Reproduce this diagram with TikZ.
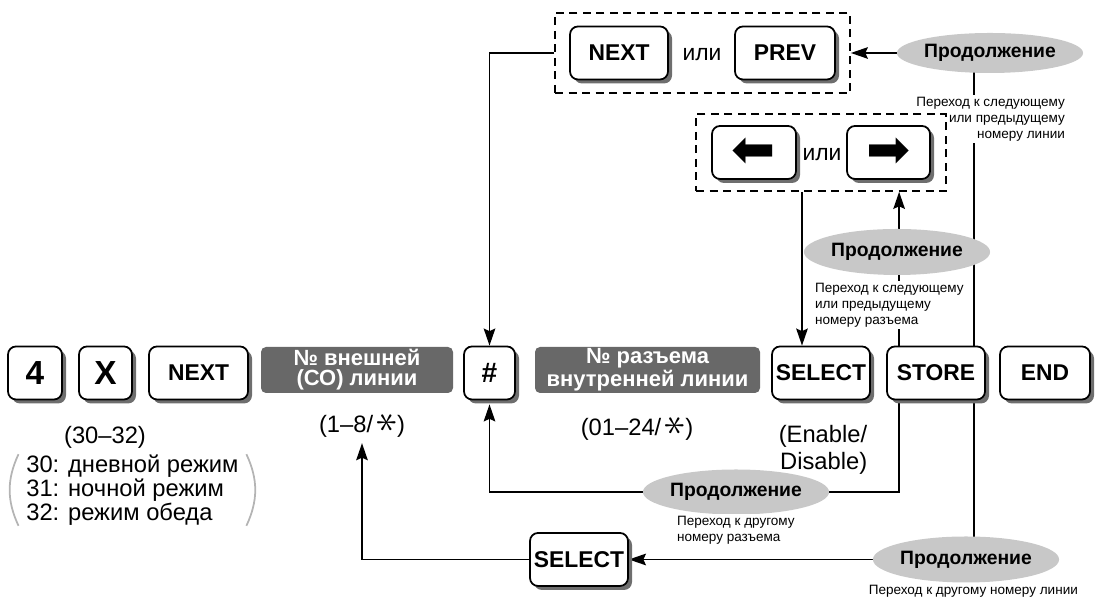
\documentclass[tikz,border=0pt]{standalone}
\usepackage{fontspec}
\setmainfont{Liberation Sans}
\newfontfamily\dejavu{DejaVu Sans}
\usepackage{tikz}
\usetikzlibrary{arrows.meta,positioning,calc,fit,shapes.geometric,shadows,backgrounds}
\definecolor{keyshc}{HTML}{6E6E6E}
\definecolor{boxc}{HTML}{686868}
\definecolor{ovalc}{HTML}{C8C8C8}
\definecolor{parc}{HTML}{B4B4B4}
\tikzset{
  >={Stealth[length=3.4mm,width=2.3mm,inset=0.5mm]},
  key/.style={draw=black,line width=1pt,fill=white,rounded corners=1.6mm,minimum height=1.06cm,inner sep=0pt,
    font=\fontsize{13}{14}\selectfont\bfseries,
    drop shadow={shadow xshift=0.8mm,shadow yshift=-0.8mm,fill=keyshc,opacity=1}},
  bigkey/.style={key,font=\fontsize{19}{20}\selectfont\bfseries},
  arrkey/.style={key,font=\fontsize{30}{30}\selectfont\dejavu},
  gbox/.style={fill=boxc,rounded corners=1mm,minimum height=0.92cm,inner sep=0pt,align=center,text=white,
    font=\fontsize{12.5}{11.5}\selectfont\bfseries},
  cont/.style={ellipse,fill=ovalc,minimum width=2.84cm,minimum height=0.92cm,inner sep=0pt,
    font=\fontsize{11}{12}\selectfont\bfseries},
  note/.style={fill=white,inner sep=1pt,font=\fontsize{7.7}{9.2}\selectfont},
  lbl/.style={inner sep=0pt,font=\fontsize{13.5}{15}\selectfont},
  orw/.style={inner sep=0pt,anchor=base,font=\fontsize{13}{14}\selectfont},
  dbox/.style={draw=black,line width=1.1pt,dash pattern=on 1.6mm off 1.1mm},
  flow/.style={->,line width=1.1pt},
  link/.style={line width=1.1pt},
  paren/.style={draw=parc,line width=1pt},
}
\newcommand{\anykey}{\,\rotatebox[origin=c]{90}{\scalebox{1.7}{$\ast$}}}

\begin{document}
\begin{tikzpicture}
  \useasboundingbox (0,0) rectangle (21.96,12.02);
  % key row
  \node[bigkey,minimum width=1.08cm] (k4) at (0.70,4.56) {4};
  \node[bigkey,minimum width=1.06cm] (kx) at (2.11,4.56) {X};
  \node[key,minimum width=1.98cm] (knext) at (3.97,4.56) {NEXT};
  \node[gbox,minimum width=3.84cm] (gco) at (7.14,4.62) {№ внешней\\(СО) линии};
  \node[key,minimum width=1.02cm,font=\fontsize{16}{17}\selectfont\bfseries] (khash) at (9.79,4.56) {\#};
  \node[gbox,minimum width=4.5cm] (gext) at (12.95,4.62) {№ разъема\\внутренней линии};
  \node[key,minimum width=1.96cm] (ksel) at (16.42,4.56) {SELECT};
  \node[key,minimum width=1.96cm] (kstore) at (18.72,4.56) {STORE};
  \node[key,minimum width=1.80cm] (kend) at (20.90,4.56) {END};
  % values under the keys
  \node[lbl] (lmode) at (2.10,3.28) {(30–32)};
  \node[lbl,anchor=west,align=left,font=\fontsize{13.5}{12}\selectfont] (lmodes) at (0.52,2.22)
    {30: дневной режим\\31: ночной режим\\32: режим обеда};
  \draw[paren] ([xshift=-1.5mm]lmodes.north west) to[bend right=25] ([xshift=-1.5mm]lmodes.south west);
  \draw[paren] ([xshift=1.5mm]lmodes.north east) to[bend left=25] ([xshift=1.5mm]lmodes.south east);
  \node[lbl] (lco) at (7.24,3.52) {(1–8/\anykey)};
  \node[lbl] (lext) at (12.74,3.46) {(01–24/\anykey)};
  \node[lbl,align=right] (lsel) at (16.46,3.02) {(Enable/\\Disable)};
  % NEXT / PREV
  \node[key,minimum width=1.96cm] (pnext) at (12.38,10.96) {NEXT};
  \node[key,minimum width=2.0cm] (pprev) at (15.70,10.96) {PREV};
  \node[orw] (or1) at (14.04,10.80) {или};
  \node[dbox,fit=(pnext)(pprev),inner xsep=0.28cm,inner ysep=0.26cm] (npbox) {};
  \node[cont,minimum width=2.6cm,minimum height=0.8cm] (ctop) at (19.80,10.96) {Продолжение};
  \node[note,align=right,anchor=north east] (ntop) at (21.34,10.12)
    {Переход к следующему\\или предыдущему\\номеру линии};
  % arrow keys
  \node[arrkey,minimum width=1.68cm] (kleft) at (15.08,8.97) {⬅};
  \node[arrkey,minimum width=1.66cm] (kright) at (17.77,8.97) {➡};
  \node[orw] (or2) at (16.44,8.80) {или};
  \node[dbox,fit=(kleft)(kright),inner xsep=0.3cm,inner ysep=0.22cm] (arbox) {};
  \node[cont] (cmid) at (17.94,6.98) {Продолжение};
  \node[note,align=left,anchor=north west] (nmid) at (16.26,6.40)
    {Переход к следующему\\или предыдущему\\номеру разъема};
  % bottom loops
  \node[cont,minimum width=2.88cm,minimum height=0.9cm] (cloop) at (14.72,2.18) {Продолжение};
  \node[note,align=left,anchor=north west] (nloop) at (13.50,1.74) {Переход к другому\\номеру разъема};
  \node[key,minimum width=1.96cm] (kselb) at (11.58,0.83) {SELECT};
  \node[cont] (cbot) at (19.32,0.83) {Продолжение};
  \node[note,anchor=east] (nbot) at (21.60,0.20) {Переход к другому номеру линии};
  % connectors
  \begin{scope}[on background layer]
    \draw[flow] (ctop.west) -- (npbox.east);
    \draw[flow] (npbox.west) -| (khash.north);
    \draw[link] ([xshift=-2.4mm]kstore.north east) -- ([xshift=-2.4mm]kstore.north east |- ctop.center);
    \draw[flow] ([xshift=2.6mm]kstore.north west) -- ([xshift=2.6mm]kstore.north west |- arbox.south);
    \draw[flow] ([xshift=-3.8mm]ksel.north |- arbox.south) -- ([xshift=-3.8mm]ksel.north);
    \draw[flow] ([xshift=2.6mm]kstore.south west) |- (cloop) -| ([yshift=-0.8mm]khash.south);
    \draw[link] ([xshift=-2.4mm]kstore.south east) -- ([xshift=-2.4mm]kstore.south east |- cbot.center);
    \draw[flow] (cbot) -- (kselb);
    \draw[flow] (kselb) -| ([yshift=-1mm]lco.south);
  \end{scope}
\end{tikzpicture}
\end{document}
